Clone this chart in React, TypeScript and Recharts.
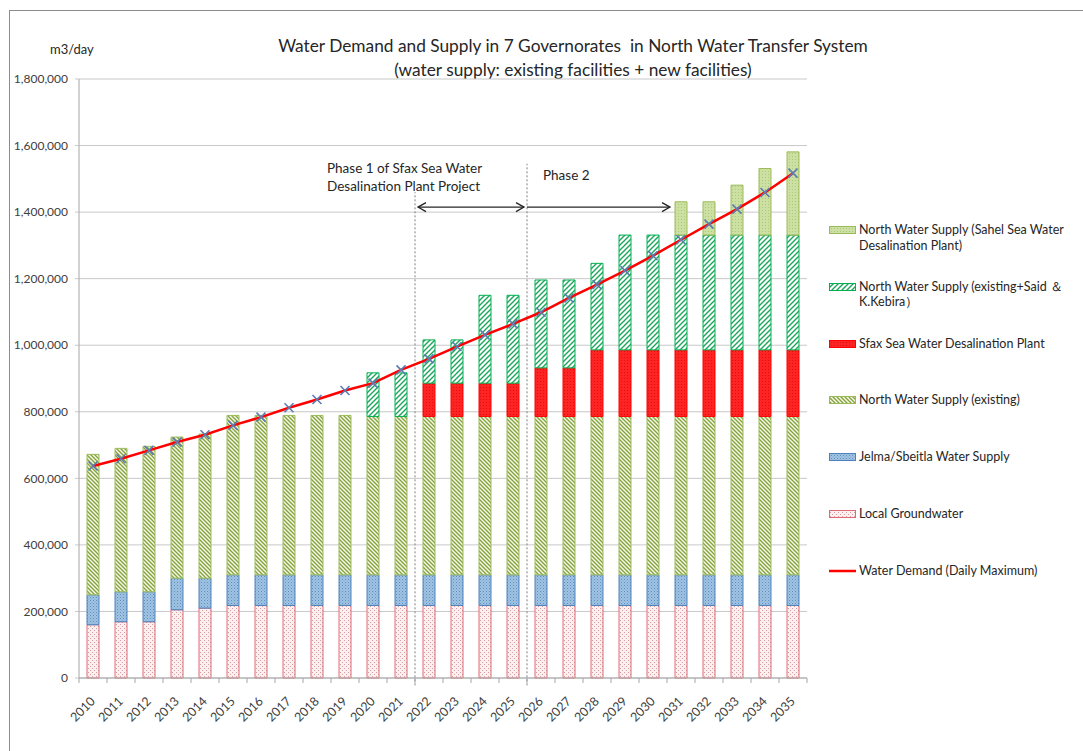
import React from 'react';
import {
  ComposedChart,
  Bar,
  Line,
  XAxis,
  YAxis,
  CartesianGrid,
  ReferenceLine,
  Legend
} from 'recharts';

// m3/day, one entry per year
const years = [
  '2010', '2011', '2012', '2013', '2014', '2015', '2016', '2017', '2018',
  '2019', '2020', '2021', '2022', '2023', '2024', '2025', '2026', '2027',
  '2028', '2029', '2030', '2031', '2032', '2033', '2034', '2035'
];

const localGroundwater = [
  160000, 169000, 169000, 205000, 210000, 218000, 218000, 218000, 218000,
  218000, 218000, 218000, 218000, 218000, 218000, 218000, 218000, 218000,
  218000, 218000, 218000, 218000, 218000, 218000, 218000, 218000
];

const jelmaSbeitla = [
  90000, 90000, 90000, 95000, 90000, 92000, 92000, 92000, 92000,
  92000, 92000, 92000, 92000, 92000, 92000, 92000, 92000, 92000,
  92000, 92000, 92000, 92000, 92000, 92000, 92000, 92000
];

const northExisting = [
  422000, 431000, 437000, 424000, 433000, 479000, 479000, 479000, 479000,
  479000, 476000, 476000, 476000, 476000, 476000, 476000, 476000, 476000,
  476000, 476000, 476000, 476000, 476000, 476000, 476000, 476000
];

const sfaxDesalination = [
  0, 0, 0, 0, 0, 0, 0, 0, 0,
  0, 0, 0, 100000, 100000, 100000, 100000, 146000, 146000,
  200000, 200000, 200000, 200000, 200000, 200000, 200000, 200000
];

const northSaidKebira = [
  0, 0, 0, 0, 0, 0, 0, 0, 0,
  0, 131000, 131000, 130000, 130000, 264000, 264000, 264000, 264000,
  260000, 345000, 345000, 345000, 345000, 345000, 345000, 345000
];

const sahelDesalination = [
  0, 0, 0, 0, 0, 0, 0, 0, 0,
  0, 0, 0, 0, 0, 0, 0, 0, 0,
  0, 0, 0, 100000, 100000, 150000, 200000, 250000
];

const demandDailyMax = [
  637000, 659000, 684000, 709000, 731000, 759000, 784000, 812000, 837000,
  864000, 886000, 926000, 959000, 996000, 1031000, 1064000, 1099000, 1142000,
  1182000, 1224000, 1269000, 1317000, 1364000, 1409000, 1459000, 1517000
];

const yTicks = [0, 200000, 400000, 600000, 800000, 1000000, 1200000, 1400000, 1600000, 1800000];

const data = years.map((year, i) => ({
  year,
  groundwater: localGroundwater[i],
  jelma: jelmaSbeitla[i],
  existing: northExisting[i],
  sfax: sfaxDesalination[i],
  said: northSaidKebira[i],
  sahel: sahelDesalination[i],
  demand: demandDailyMax[i]
}));

const PHASE1_START = '2022';
const PHASE2_START = '2026';
const PHASE2_ARROW_END = '2031';
const ARROW_Y = 1415000;

const WIDTH = 1083;
const HEIGHT = 751;
const MARGIN = { top: 79, right: 276, bottom: 18, left: 9 };
const Y_AXIS_WIDTH = 70;
const BAND = (WIDTH - MARGIN.left - MARGIN.right - Y_AXIS_WIDTH) / years.length;

const FONT = 'Lato, "Noto Sans", sans-serif';
const TEXT = '#404040';
const AXIS = '#a6a6a6';

const legendItems = [
  { lines: ['North Water Supply (Sahel Sea Water', 'Desalination Plant)'], fill: 'url(#pSahel)', stroke: '#9bbb59' },
  { lines: ['North Water Supply (existing+Said \uFF06', 'K.Kebira\uFF09'], fill: 'url(#pSaid)', stroke: '#00b050' },
  { lines: ['Sfax Sea Water Desalination Plant'], fill: 'url(#pSfax)', stroke: '#ff0000' },
  { lines: ['North Water Supply (existing)'], fill: 'url(#pExisting)', stroke: '#9bbb59' },
  { lines: ['Jelma/Sbeitla Water Supply'], fill: 'url(#pJelma)', stroke: '#4f81bd' },
  { lines: ['Local Groundwater'], fill: 'url(#pGround)', stroke: '#e06a74' },
  { lines: ['Water Demand (Daily Maximum)'], line: true }
];

// rotated year label plus the tick marks sitting on the category boundaries
function YearTick({ x, y, payload, index }: any) {
  const half = BAND / 2;
  return (
    <g>
      <line x1={x - half} y1={y} x2={x - half} y2={y + 5} stroke={AXIS} />
      {index === years.length - 1 && (
        <line x1={x + half} y1={y} x2={x + half} y2={y + 5} stroke={AXIS} />
      )}
      <text
        x={x + 3}
        y={y + 24}
        transform={`rotate(-45, ${x + 3}, ${y + 24})`}
        textAnchor="end"
        fontSize={12.5}
        fontFamily={FONT}
        fill={TEXT}
      >
        {payload.value}
      </text>
    </g>
  );
}

function CrossDot({ cx, cy, index }: any) {
  if (cx == null || cy == null) return null;
  const r = 4.5;
  return (
    <path
      key={index}
      d={`M${cx - r},${cy - r}L${cx + r},${cy + r}M${cx - r},${cy + r}L${cx + r},${cy - r}`}
      stroke="#5d7cb2"
      strokeWidth={1.6}
      fill="none"
    />
  );
}

const textStyle = { fontSize: 13.5, fontFamily: FONT, fill: '#262626' };

function Phase1Divider(props: any) {
  const { x1, y1, x2, y2 } = props;
  const top = Math.min(y1, y2);
  return (
    <g>
      <line x1={x1} y1={y1} x2={x2} y2={y2} stroke="#7f7f7f" strokeDasharray="2 2" />
      <text x={x1 - 88} y={top - 19} {...textStyle}>Phase 1 of Sfax Sea Water</text>
      <text x={x1 - 88} y={top - 1} {...textStyle}>Desalination Plant Project</text>
    </g>
  );
}

function Phase2Divider(props: any) {
  const { x1, y1, x2, y2 } = props;
  const top = Math.min(y1, y2);
  return (
    <g>
      <line x1={x1} y1={y1} x2={x2} y2={y2} stroke="#7f7f7f" strokeDasharray="2 2" />
      <text x={x1 + 16} y={top + 16} {...textStyle}>Phase 2</text>
    </g>
  );
}

const arrowShape = (bothEnds: boolean, padLeft: number, padRight: number) => (props: any) => {
  const { x1, y1, x2, y2 } = props;
  const left = Math.min(x1, x2) + padLeft;
  const right = Math.max(x1, x2) + padRight;
  const h = 8;
  const w = 4.5;
  return (
    <g stroke="#262626" strokeWidth={1.3} fill="none">
      <line x1={left} y1={y1} x2={right} y2={y2} />
      <path d={`M${right - h},${y2 - w}L${right},${y2}L${right - h},${y2 + w}`} />
      {bothEnds && <path d={`M${left + h},${y1 - w}L${left},${y1}L${left + h},${y1 + w}`} />}
    </g>
  );
};

function LegendBox() {
  return (
    <div style={{ fontFamily: FONT, fontSize: 12.5, color: '#262626' }}>
      {legendItems.map((item, i) => (
        <div key={i} style={{ position: 'absolute', top: i * 56.8, left: 0, display: 'flex' }}>
          <svg width={29} height={16} style={{ flex: 'none' }}>
            {item.line ? (
              <line x1={1} y1={8} x2={28} y2={8} stroke="#ff0000" strokeWidth={2.5} />
            ) : (
              <rect x={1.5} y={4.5} width={26} height={7} fill={item.fill} stroke={item.stroke} />
            )}
          </svg>
          <div style={{ lineHeight: '15.5px', marginLeft: 2, whiteSpace: 'nowrap' }}>
            {item.lines.map((t, j) => (
              <div key={j}>{t}</div>
            ))}
          </div>
        </div>
      ))}
    </div>
  );
}

export default function App() {
  return (
    <div
      style={{
        position: 'absolute',
        left: 0,
        top: 0,
        width: WIDTH,
        height: HEIGHT,
        overflow: 'hidden',
        background: '#fff',
        fontFamily: FONT
      }}
    >
      <div
        style={{
          position: 'absolute',
          left: 9,
          top: 10,
          width: 1100,
          height: 800,
          border: '1px solid #8c8c8c'
        }}
      />
      <div
        style={{
          position: 'absolute',
          left: 0,
          top: 34,
          width: 1146,
          textAlign: 'center',
          fontSize: 17.3,
          lineHeight: '24px',
          color: '#262626'
        }}
      >
        <div>Water Demand and Supply in 7 Governorates&nbsp; in North Water Transfer System</div>
        <div>(water supply: existing facilities + new facilities)</div>
      </div>
      <div style={{ position: 'absolute', left: 50, top: 41, fontSize: 13, color: '#262626' }}>m3/day</div>

      <div style={{ position: 'absolute', left: 0, top: 0 }}>
        <ComposedChart
          width={WIDTH}
          height={HEIGHT}
          data={data}
          margin={MARGIN}
          barCategoryGap={0}
        >
          <defs>
            <pattern id="pGround" width="4" height="4" patternUnits="userSpaceOnUse">
              <rect width="4" height="4" fill="#fbefef" />
              <rect x="0" y="0" width="1" height="1" fill="#d49ca0" />
              <rect x="2" y="2" width="1" height="1" fill="#d49ca0" />
            </pattern>
            <pattern id="pJelma" width="3" height="3" patternUnits="userSpaceOnUse">
              <rect width="3" height="3" fill="#9fc3e2" />
              <rect x="0" y="0" width="1" height="1" fill="#5f8fbf" />
              <rect x="1.5" y="1.5" width="1" height="1" fill="#7aa6d0" />
            </pattern>
            <pattern id="pExisting" width="4" height="4" patternUnits="userSpaceOnUse">
              <rect width="4" height="4" fill="#f6faea" />
              <path d="M-1,-1L5,5M-1,3L1,5M3,-1L5,1" stroke="#86a23e" strokeWidth="1.4" />
            </pattern>
            <pattern id="pSaid" width="5" height="5" patternUnits="userSpaceOnUse">
              <rect width="5" height="5" fill="#ffffff" />
              <path d="M-1,6L6,-1M-1,1L1,-1M4,6L6,4" stroke="#1aa55a" strokeWidth="1.4" />
            </pattern>
            <pattern id="pSfax" width="3" height="3" patternUnits="userSpaceOnUse">
              <rect width="3" height="3" fill="#ff2424" />
              <rect x="0" y="0" width="1" height="1" fill="#dd1010" />
            </pattern>
            <pattern id="pSahel" width="3" height="3" patternUnits="userSpaceOnUse">
              <rect width="3" height="3" fill="#cbe0a2" />
              <rect x="0" y="0" width="1" height="1" fill="#b0c878" />
            </pattern>
          </defs>
          <CartesianGrid vertical={false} stroke="#c8c8c8" />
          <XAxis
            dataKey="year"
            interval={0}
            height={55}
            tickSize={0}
            tickMargin={0}
            axisLine={{ stroke: AXIS }}
            tickLine={false}
            tick={<YearTick />}
          />
          <YAxis
            width={Y_AXIS_WIDTH}
            domain={[0, 1800000]}
            ticks={yTicks}
            tickFormatter={(v: number) => v.toLocaleString('en-US')}
            tick={{ fontSize: 12, fontFamily: FONT, fill: TEXT }}
            tickSize={4}
            tickMargin={7}
            axisLine={{ stroke: AXIS }}
            tickLine={{ stroke: '#c8c8c8' }}
          />
          <Legend
            layout="vertical"
            align="center"
            verticalAlign="middle"
            content={() => <LegendBox />}
            wrapperStyle={{ left: 828, top: 222, width: 255, height: 400 }}
          />
          <Bar dataKey="groundwater" stackId="s" barSize={12} fill="url(#pGround)" stroke="#e06a74" strokeWidth={1} isAnimationActive={false} />
          <Bar dataKey="jelma" stackId="s" barSize={12} fill="url(#pJelma)" stroke="#4f81bd" strokeWidth={1} isAnimationActive={false} />
          <Bar dataKey="existing" stackId="s" barSize={12} fill="url(#pExisting)" stroke="#9bbb59" strokeWidth={1} isAnimationActive={false} />
          <Bar dataKey="sfax" stackId="s" barSize={12} fill="url(#pSfax)" stroke="#ff0000" strokeWidth={1} isAnimationActive={false} />
          <Bar dataKey="said" stackId="s" barSize={12} fill="url(#pSaid)" stroke="#00b050" strokeWidth={1} isAnimationActive={false} />
          <Bar dataKey="sahel" stackId="s" barSize={12} fill="url(#pSahel)" stroke="#9bbb59" strokeWidth={1} isAnimationActive={false} />
          <ReferenceLine
            ifOverflow="visible"
            position="start"
            segment={[{ x: PHASE1_START, y: -22000 }, { x: PHASE1_START, y: 1460000 }]}
            shape={Phase1Divider}
          />
          <ReferenceLine
            ifOverflow="visible"
            position="start"
            segment={[{ x: PHASE2_START, y: -22000 }, { x: PHASE2_START, y: 1545000 }]}
            shape={Phase2Divider}
          />
          <ReferenceLine
            ifOverflow="visible"
            position="start"
            segment={[{ x: PHASE1_START, y: ARROW_Y }, { x: PHASE2_START, y: ARROW_Y }]}
            shape={arrowShape(true, 3, -3)}
          />
          <ReferenceLine
            ifOverflow="visible"
            position="start"
            segment={[{ x: PHASE2_START, y: ARROW_Y }, { x: PHASE2_ARROW_END, y: ARROW_Y }]}
            shape={arrowShape(false, 0, 3)}
          />
          <Line
            dataKey="demand"
            type="linear"
            stroke="#ff0000"
            strokeWidth={2.5}
            dot={<CrossDot />}
            activeDot={false}
            isAnimationActive={false}
          />
        </ComposedChart>
      </div>
    </div>
  );
}
